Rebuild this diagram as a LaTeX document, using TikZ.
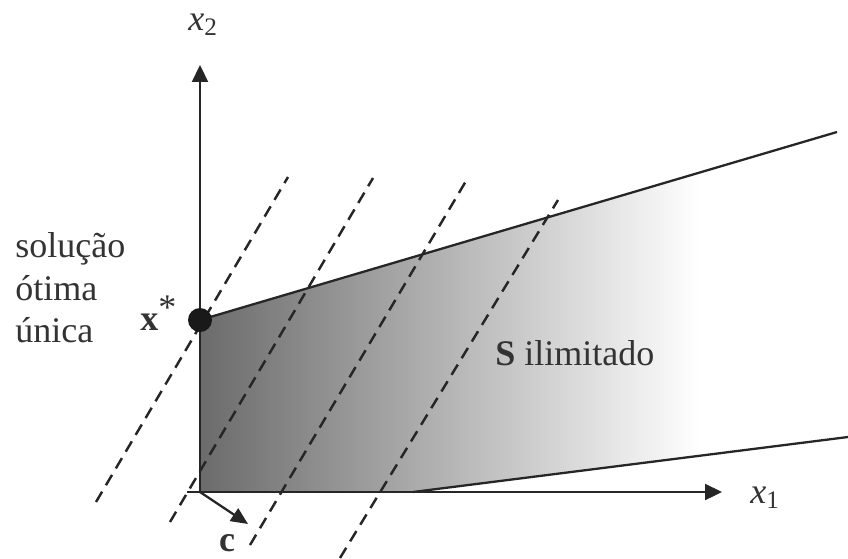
\documentclass[tikz,border=0pt]{standalone}
\usepackage{fontspec}
\setmainfont{Liberation Serif}
\usepackage{tikz}
\usetikzlibrary{arrows.meta, positioning}

\tikzset{
  lbl/.style={font=\fontsize{20.5}{25}\selectfont, inner sep=0pt, text=black!80},
  axis/.style={line width=1.3pt, draw=black!85, -{Triangle[length=0.34cm, width=0.32cm]}},
  bound/.style={line width=1.3pt, draw=black!85},
  level/.style={line width=1.4pt, draw=black!85, dash pattern=on 0.24cm off 0.15cm},
}

\begin{document}
\begin{tikzpicture}[x=0.02cm, y=-0.02cm]
		\useasboundingbox (0,0) rectangle (848,558);
		% Points
		\coordinate (O) at (200,492);
		\coordinate (xs) at (187,492);
		\coordinate (xe) at (722,492);
		\coordinate (ye) at (200,65);
		\coordinate (opt) at (200,320);
		\coordinate (up) at (837,132);
		\coordinate (lo) at (413,492);
		\coordinate (loend) at (848,437);
		\coordinate (ctip) at (248,524);
		% Shaded region
		\begin{scope}
			\clip (opt) -- (up) -- (loend) -- (lo) -- (O) -- cycle;
			\shade[left color=black!58, right color=white] (200,120) rectangle (700,500);
		\end{scope}
		% Level lines
		\draw[level] (96,502) -- (288,177);
		\draw[level] (170,522) -- (373,178);
		\draw[level] (250,545) -- (466,181);
		\draw[level] (340,558) -- (558,200);
		% Boundary of S
		\draw[bound] (opt) -- (up);
		\draw[bound] (lo) -- (loend);
		% Draw axes
		\draw[axis] (xs) -- (xe);
		\draw[axis] (O) -- (ye);
		\node[lbl, anchor=base west] (x1) at (750,503) {\textit{x}\textsubscript{1}};
		\node[lbl, anchor=base west] (x2) at (188,30) {\textit{x}\textsubscript{2}};
		% Gradient c
		\draw[axis, -{Triangle[length=0.34cm, width=0.3cm]}] (O) -- (ctip);
		\node[lbl, anchor=base] (c) at (227,551) {\textbf{c}};
		% Optimal point
		\fill[black!90] (opt) circle (12);
		\node[lbl, anchor=base west] (xstar) at (140,330) {\textbf{x}\raisebox{0.3em}{*}};
		\node[lbl, anchor=base west] (sol1) at (15,257) {solução};
		\node[lbl, anchor=base west] (sol2) at (15,300) {ótima};
		\node[lbl, anchor=base west] (sol3) at (15,342) {única};
		\node[lbl, anchor=base west] (S) at (495,365) {\textbf{S} ilimitado};
	\end{tikzpicture}
\end{document}
